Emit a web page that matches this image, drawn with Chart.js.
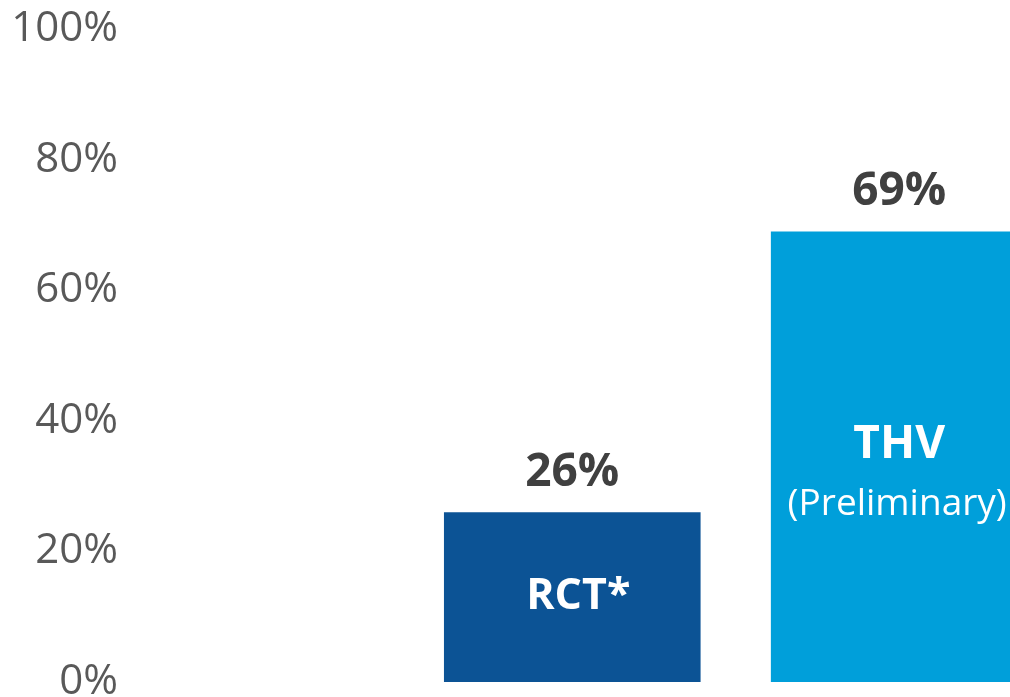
<!DOCTYPE html>
<html>
<head>
<meta charset="utf-8">
<script src="https://cdn.jsdelivr.net/npm/chart.js@4.4.1/dist/chart.umd.min.js"></script>
<style>
  html, body { margin: 0; padding: 0; background: #fff; overflow: hidden; }
  #wrap { width: 1010px; height: 697px; }
</style>
</head>
<body>
<div id="wrap"><canvas id="resultChart" width="1010" height="697"></canvas></div>
<script>
// Result Chart
const categories = ["RCT*", "THV"];
const notes = ["", "(Preliminary)"];
const values = [26, 69];
const colors = ["#0C5395", "#009FDA"];
const yMin = 0;
const yMax = 100;
const yStep = 20;

const ctx = document.getElementById("resultChart").getContext("2d");

new Chart(ctx, {
  type: "bar",
  data: {
    datasets: [
      {
        data: values.map((v, i) => ({ x: i + 1, y: v })),
        backgroundColor: colors,
        borderWidth: 0,
        barPercentage: 0.785,
        categoryPercentage: 1,
      },
    ],
  },
  options: {
    responsive: false,
    animation: false,
    layout: { padding: { top: 29, bottom: 15, left: 0, right: 0 } },
    plugins: {
      legend: { display: false },
      tooltip: { enabled: false },
    },
    scales: {
      x: {
        type: "linear",
        display: false,
        offset: false,
        min: -0.359,
        max: 2.339,
        ticks: { stepSize: 1, includeBounds: false },
      },
      y: {
        min: yMin,
        max: yMax,
        border: { display: false },
        grid: { display: false, drawTicks: false },
        ticks: {
          stepSize: yStep,
          padding: 10,
          color: "#595959",
          font: { family: "Open Sans", size: 42 },
          callback: (value) => `${value}%`,
        },
        afterFit(scale) {
          scale.width = 128;
          scale.paddingTop = 0;
          scale.paddingBottom = 0;
        },
      },
    },
  },
  plugins: [
    {
      id: "bar-labels",
      afterDatasetsDraw(chart) {
        const { ctx } = chart;
        const bars = chart.getDatasetMeta(0).data;

        ctx.save();
        ctx.textAlign = "center";
        ctx.textBaseline = "alphabetic";

        bars.forEach((bar, i) => {
          const mid = (bar.y + bar.base) / 2;

          // value above bar
          ctx.font = "bold 46px 'Open Sans'";
          ctx.fillStyle = "#404040";
          ctx.fillText(`${values[i]}%`, bar.x, bar.y - 26);

          // name inside bar
          ctx.fillStyle = "#ffffff";
          ctx.textBaseline = "middle";
          if (notes[i]) {
            ctx.font = "bold 46px 'Open Sans'";
            ctx.fillText(categories[i], bar.x, mid - 12);
            ctx.font = "37px 'Open Sans'";
            ctx.fillText(notes[i], bar.x - 2, mid + 48);
          } else {
            ctx.font = "bold 43px 'Open Sans'";
            ctx.fillText(categories[i], bar.x + 6, mid);
          }
          ctx.textBaseline = "alphabetic";
        });

        ctx.restore();
      },
    },
  ],
});
</script>
</body>
</html>
